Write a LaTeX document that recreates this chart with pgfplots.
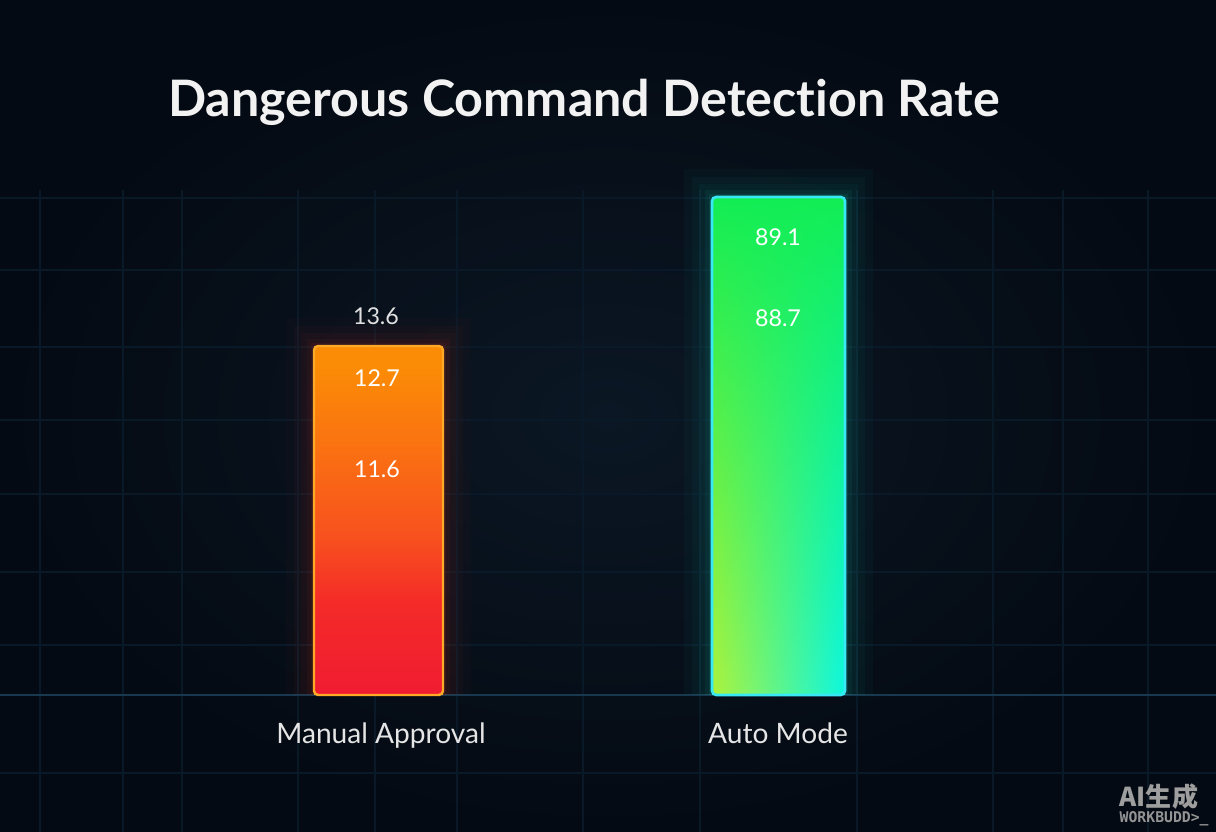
\documentclass[border=0pt]{standalone}
\usepackage{pgfplots}
\pgfplotsset{compat=1.18}
\usepackage{fontspec}
\setmainfont{Lato}[Ligatures=NoCommon]
\newfontfamily\cjk{Noto Sans CJK SC}
\newfontfamily\wmfont{DejaVu Sans Mono}
\definecolor{bgin}{HTML}{0B1724}
\definecolor{bgout}{HTML}{040A13}
\definecolor{gridc}{HTML}{0A1928}
\definecolor{basec}{HTML}{17384F}
\definecolor{mtop}{HTML}{FB8C06}
\definecolor{mup}{HTML}{FA7012}
\definecolor{mmid}{HTML}{F8521E}
\definecolor{mlow}{HTML}{F42A28}
\definecolor{mbot}{HTML}{F01C32}
\definecolor{mborder}{HTML}{FFAA26}
\definecolor{mglow}{HTML}{FF3A1C}
\definecolor{aborder}{HTML}{38E8F4}
\definecolor{aglow}{HTML}{18E0C0}
\pgfdeclareverticalshading{manshade}{100bp}{color(0bp)=(mbot); color(25bp)=(mbot);
  color(38bp)=(mlow); color(48bp)=(mmid); color(60bp)=(mup); color(72bp)=(mtop); color(100bp)=(mtop)}
% diagonal green -> lime (bottom left) / cyan (bottom right)
\pgfdeclarefunctionalshading{autoshade}{\pgfpoint{-50bp}{-50bp}}{\pgfpoint{50bp}{50bp}}{}{
  25 add 50 div exch 25 add 50 div exch
  1 index -0.63 mul 0.68 add 1 index 1 exch sub mul 1 index 0.07 mul add
  2 index 0.02 mul 0.95 add 2 index 1 exch sub mul 2 index 0.93 mul add
  3 index 0.65 mul 0.23 add 3 index 1 exch sub mul 3 index 0.33 mul add
  5 -2 roll pop pop
}
\begin{document}
\begin{tikzpicture}
\fill[inner color=bgin, outer color=bgout] (0,0) rectangle (12.16,8.32);
\useasboundingbox (0,0) rectangle (12.16,8.32);
% grid region
\begin{axis}[at={(0,0)}, anchor=south west, scale only axis,
  width=12.16cm, height=6.42cm, xmin=0, xmax=1216, ymin=0, ymax=642,
  axis line style={draw=none}, major tick length=0pt,
  xtick={40,123,182,298,375,457,583,700,857,993,1063,1148},
  ytick={59,187,260,338,412,485,562,634},
  xticklabels={}, yticklabels={},
  grid=major, major grid style={color=gridc, line width=0.5pt}]
\end{axis}
\begin{axis}[at={(0,0)}, anchor=south west, scale only axis,
  width=12.16cm, height=8.32cm, xmin=0, xmax=1216, ymin=-137, ymax=695,
  axis line style={draw=none}, major tick length=0pt,
  xtick=\empty, ytick=\empty, clip=false]
% baseline
\addplot[basec, line width=0.6pt] coordinates {(0,0) (1216,0)};
% glow Manual
\addplot[ybar, bar shift=0, bar width=185, fill=mglow, draw=none, opacity=0.025] coordinates {(378.5,377)};
\addplot[ybar, bar shift=0, bar width=169, fill=mglow, draw=none, opacity=0.03] coordinates {(378.5,369)};
\addplot[ybar, bar shift=0, bar width=155, fill=mglow, draw=none, opacity=0.035] coordinates {(378.5,362)};
\addplot[ybar, bar shift=0, bar width=143, fill=mglow, draw=none, opacity=0.05] coordinates {(378.5,356)};
\addplot[ybar, bar shift=0, bar width=135, fill=mglow, draw=none, opacity=0.08] coordinates {(378.5,352)};
% glow Auto
\addplot[ybar, bar shift=0, bar width=189, fill=aglow, draw=none, opacity=0.03] coordinates {(778.5,526)};
\addplot[ybar, bar shift=0, bar width=173, fill=aglow, draw=none, opacity=0.035] coordinates {(778.5,518)};
\addplot[ybar, bar shift=0, bar width=159, fill=aglow, draw=none, opacity=0.04] coordinates {(778.5,511)};
\addplot[ybar, bar shift=0, bar width=147, fill=aglow, draw=none, opacity=0.06] coordinates {(778.5,505)};
\addplot[ybar, bar shift=0, bar width=139, fill=aglow, draw=none, opacity=0.09] coordinates {(778.5,501)};
% bars
\addplot[ybar, bar shift=0, bar width=129, draw=mborder, line width=0.7pt, rounded corners=1.2pt,
  shading=manshade] coordinates {(378.5,349)};
\addplot[ybar, bar shift=0, bar width=133, draw=aborder, line width=0.75pt, rounded corners=1.2pt,
  shading=autoshade] coordinates {(778.5,498)};
% value labels
\addplot[draw=none, mark=none, nodes near coords, point meta=explicit symbolic,
  nodes near coords style={anchor=base, font=\fontsize{6.6}{8}\selectfont, text=white, inner sep=0pt}]
  coordinates {(377,217)[11.6] (377,308)[12.7] (778,449)[89.1] (778,368)[88.7]};
\addplot[draw=none, mark=none, nodes near coords, point meta=explicit symbolic,
  nodes near coords style={anchor=base, font=\fontsize{6.6}{8}\selectfont, text=white!88!black, inner sep=0pt}]
  coordinates {(376,370)[13.6]};
% category labels
\addplot[draw=none, mark=none, nodes near coords, point meta=explicit symbolic,
  nodes near coords style={anchor=base, font=\fontsize{8}{10}\selectfont, text=white!90!black, inner sep=0pt}]
  coordinates {(381,-49)[Manual Approval] (778,-49)[Auto Mode]};
% title
\node[anchor=base, text=white!95!black, inner sep=0pt, font=\fontsize{14.3}{17}\selectfont\bfseries]
  at (axis cs:584,578) {Dangerous Command Detection Rate};
% watermark
\node[anchor=base west, inner sep=0pt, text=white!62!black, font=\cjk\bfseries\fontsize{7.4}{8}\selectfont]
  at (axis cs:1119,-112) {AI生成};
\node[anchor=base west, inner sep=0pt, text=white!58!black, font=\wmfont\bfseries\fontsize{4.2}{5}\selectfont]
  at (axis cs:1119,-128) {WORKBUDD>\_};
\end{axis}
\end{tikzpicture}
\end{document}
